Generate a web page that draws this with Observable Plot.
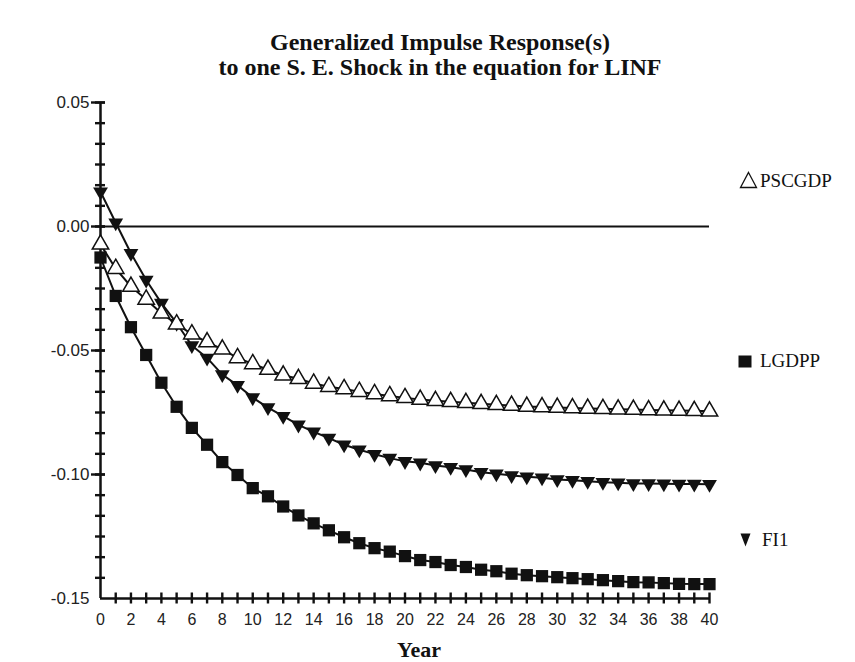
<!DOCTYPE html>
<html>
<head>
<meta charset="utf-8">
<script src="https://cdn.jsdelivr.net/npm/d3@7"></script>
<script src="https://cdn.jsdelivr.net/npm/@observablehq/plot@0.6"></script>
<style>
  html, body { margin: 0; padding: 0; background: #fff; }
  body { width: 855px; height: 662px; position: relative; overflow: hidden; }
  .serif { font-family: "Liberation Serif", "Times New Roman", serif; color: #111; position: absolute; white-space: nowrap; }
  .title { font-weight: bold; font-size: 24px; line-height: 24px; left: 0; width: 880px; text-align: center; }
  .leg { font-size: 19px; line-height: 19px; }
  .sym { position: absolute; }
  #chart { position: absolute; left: 0; top: 80px; }
</style>
</head>
<body>
<div class="serif title" style="top:30px">Generalized Impulse Response(s)</div>
<div class="serif title" style="top:55px">to one S. E. Shock in the equation for LINF</div>

<div id="chart"></div>

<svg class="sym" style="left:739px;top:171px" width="19" height="18"><polygon points="9.5,1.5 17.5,16.5 1.5,16.5" fill="white" stroke="#111" stroke-width="1.3"/></svg>
<div class="serif leg" style="left:760px;top:171px">PSCGDP</div>
<svg class="sym" style="left:738px;top:355px" width="14" height="13"><rect x="0.5" y="0.5" width="13" height="12" fill="#111"/></svg>
<div class="serif leg" style="left:760px;top:351px">LGDPP</div>
<svg class="sym" style="left:740px;top:533px" width="11" height="14"><polygon points="0.5,0.5 10.5,0.5 5.5,13.5" fill="#111"/></svg>
<div class="serif leg" style="left:762px;top:530px">FI1</div>

<div class="serif" style="left:319px;width:200px;text-align:center;top:639px;font-size:22px;line-height:22px;font-weight:bold">Year</div>

<script>
// ---- data ----
const years = [0,1,2,3,4,5,6,7,8,9,10,11,12,13,14,15,16,17,18,19,20,
               21,22,23,24,25,26,27,28,29,30,31,32,33,34,35,36,37,38,39,40];

const PSCGDP = [-0.0072,-0.0170,-0.0242,-0.0294,-0.0350,-0.0394,-0.0434,-0.0466,-0.0495,-0.0530,
                -0.0554,-0.0577,-0.0600,-0.0614,-0.0633,-0.0646,-0.0655,-0.0666,-0.0675,-0.0683,
                -0.0691,-0.0698,-0.0703,-0.0707,-0.0711,-0.0715,-0.0719,-0.0722,-0.0726,-0.0728,
                -0.0730,-0.0732,-0.0734,-0.0735,-0.0737,-0.0738,-0.0740,-0.0741,-0.0742,-0.0743,-0.0745];

const LGDPP = [-0.0125,-0.0280,-0.0406,-0.0518,-0.0630,-0.0727,-0.0812,-0.0880,-0.0950,-0.1002,
               -0.1055,-0.1088,-0.1129,-0.1165,-0.1197,-0.1225,-0.1253,-0.1277,-0.1297,-0.1311,
               -0.1329,-0.1345,-0.1353,-0.1365,-0.1373,-0.1384,-0.1390,-0.1400,-0.1406,-0.1410,
               -0.1414,-0.1418,-0.1422,-0.1426,-0.1430,-0.1434,-0.1435,-0.1438,-0.1441,-0.1442,-0.1442];

const FI1 = [0.0140,0.0015,-0.0108,-0.0216,-0.0309,-0.0390,-0.0480,-0.0530,-0.0597,-0.0640,
             -0.0690,-0.0730,-0.0765,-0.0800,-0.0828,-0.0853,-0.0880,-0.0900,-0.0918,-0.0934,
             -0.0947,-0.0953,-0.0964,-0.0971,-0.0980,-0.0991,-0.0997,-0.1004,-0.1009,-0.1013,
             -0.1020,-0.1023,-0.1027,-0.1031,-0.1033,-0.1036,-0.1036,-0.1037,-0.1038,-0.1038,-0.1039];

const seriesNames = ["PSCGDP", "LGDPP", "FI1"];
const xLabelTicks = [0,2,4,6,8,10,12,14,16,18,20,22,24,26,28,30,32,34,36,38,40];
const xMinorTicks = [1,2,3,4,5,6,7,8,9,10,11,12,13,14,15,16,17,18,19,20,
                     21,22,23,24,25,26,27,28,29,30,31,32,33,34,35,36,37,38,39,40];
const yLabelTicks = [0.05, 0.00, -0.05, -0.10, -0.15];
const yMajorTicks = [0.05, 0.00, -0.05, -0.10];
const yMinorTicks = d3.range(1, 25).map(i => -0.15 + i * 0.05 / 6);

// ---- build table ----
const valuesBySeries = {PSCGDP, LGDPP, FI1};
const data = [];
for (const s of seriesNames) {
  years.forEach((yr, i) => data.push({year: yr, value: valuesBySeries[s][i], series: s}));
}
const only = s => data.filter(d => d.series === s);
const yMin = -0.15, yMax = 0.05, xMin = 0, xMax = 40;

const chart = Plot.plot({
  width: 855,
  height: 582,
  marginLeft: 100,
  marginRight: 146,
  marginTop: 22,
  marginBottom: 64,
  x: {domain: [xMin, xMax], label: null},
  y: {domain: [yMin, yMax], label: null},
  style: {fontFamily: "'Liberation Sans', Arial, sans-serif", background: "white", overflow: "visible", color: "#111"},
  marks: [
    // axes lines
    Plot.ruleX([xMin], {stroke: "#111", strokeWidth: 2.5}),
    Plot.ruleY([yMin], {stroke: "#111", strokeWidth: 2.5}),
    // zero line
    Plot.ruleY([0], {stroke: "#111", strokeWidth: 2}),
    // y ticks (crossing the axis)
    Plot.ruleY(yMinorTicks, {y: d => d, x1: xMin, x2: xMin, insetLeft: -5, insetRight: -5, stroke: "#111", strokeWidth: 2.4}),
    Plot.ruleY(yMajorTicks, {y: d => d, x1: xMin, x2: xMin, insetLeft: -9, insetRight: -5, stroke: "#111", strokeWidth: 2.4}),
    Plot.axisY({ticks: yLabelTicks, tickSize: 0, tickPadding: 11, tickFormat: d => d.toFixed(2), fontSize: 17, fill: "#222", label: null}),
    // x ticks (crossing the axis)
    Plot.ruleX(xMinorTicks, {x: d => d, y1: yMin, y2: yMin, insetTop: -5.5, insetBottom: -5.5, stroke: "#111", strokeWidth: 2.4}),
    Plot.axisX({ticks: xLabelTicks, tickSize: 0, tickPadding: 15, fontSize: 16, fill: "#222", label: null}),
    // series lines
    Plot.line(data, {x: "year", y: "value", z: "series", stroke: "#111", strokeWidth: 2}),
    // markers
    Plot.dot(only("LGDPP"), {x: "year", y: "value", symbol: "square", r: 6.9, fill: "#111", stroke: "none"}),
    Plot.dot(only("FI1"), {x: "year", y: "value", symbol: "triangle", rotate: 180, r: 5.5, fill: "#111", stroke: "none"}),
    Plot.dot(only("PSCGDP"), {x: "year", y: "value", symbol: "triangle", r: 6.1, fill: "white", stroke: "#111", strokeWidth: 1.5})
  ]
});
document.getElementById("chart").appendChild(chart);
</script>
</body>
</html>
